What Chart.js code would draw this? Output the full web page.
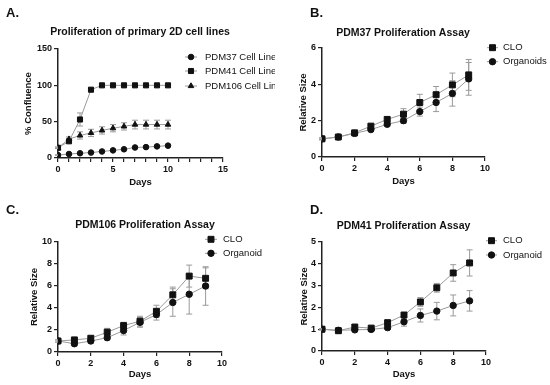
<!DOCTYPE html>
<html>
<head>
<meta charset="utf-8">
<script src="https://cdn.jsdelivr.net/npm/chart.js@4.4.1/dist/chart.umd.min.js"></script>
<style>
  body { margin: 0; background: #fff; }
  #wrap { position: relative; width: 550px; height: 385px; }
  #wrap canvas { position: absolute; left: 0; top: 0; }
</style>
</head>
<body>
<div id="wrap">
  <canvas id="chartA" width="550" height="385"></canvas>
  <canvas id="chartB" width="550" height="385"></canvas>
  <canvas id="chartC" width="550" height="385"></canvas>
  <canvas id="chartD" width="550" height="385"></canvas>
</div>
<script>
// ---- data ----
const daysA = [0, 1, 2, 3, 4, 5, 6, 7, 8, 9, 10];
const pdm37Conf = [4, 5.5, 6.5, 7.5, 9, 10.5, 12, 14.5, 15, 16, 17];
const pdm37ConfErr = [0.5, 0.5, 0.5, 0.5, 0.5, 0.5, 0.5, 0.8, 0.8, 0.8, 0.8];
const pdm41Conf = [14, 23, 53, 94, 100, 100, 100, 100, 100, 100, 100];
const pdm41ConfErr = [1, 2, 9, 2, 0.5, 0.5, 0.5, 0.5, 0.5, 0.5, 0.5];
const pdm106Conf = [14, 26, 31, 34.5, 38, 41, 43.5, 46, 46, 46, 46];
const pdm106ConfErr = [1, 3, 5, 5, 5, 5, 5, 6, 6, 6, 6];

const days = [0, 1, 2, 3, 4, 5, 6, 7, 8, 9];
const pdm37Clo = [1.0, 1.1, 1.33, 1.7, 2.07, 2.36, 3.0, 3.43, 3.97, 4.52];
const pdm37CloErr = [0.05, 0.05, 0.08, 0.1, 0.12, 0.3, 0.45, 0.45, 0.65, 0.85];
const pdm37Org = [1.0, 1.1, 1.3, 1.51, 1.8, 2.0, 2.5, 3.0, 3.5, 4.3];
const pdm37OrgErr = [0.05, 0.05, 0.05, 0.08, 0.1, 0.15, 0.25, 0.5, 0.7, 0.9];

const pdm106Clo = [1.0, 1.1, 1.25, 1.8, 2.4, 2.8, 3.7, 5.2, 6.9, 6.7];
const pdm106CloErr = [0.1, 0.15, 0.2, 0.35, 0.3, 0.45, 0.55, 0.7, 1.0, 0.95];
const pdm106Org = [1.0, 0.75, 1.0, 1.3, 1.95, 2.7, 3.4, 4.5, 5.25, 6.0];
const pdm106OrgErr = [0.1, 0.2, 0.2, 0.2, 0.4, 0.45, 0.5, 1.25, 1.8, 1.75];

const pdm41Clo = [1.0, 0.93, 1.1, 1.05, 1.3, 1.65, 2.25, 2.9, 3.58, 4.04];
const pdm41CloErr = [0.03, 0.03, 0.1, 0.05, 0.08, 0.12, 0.2, 0.2, 0.38, 0.6];
const pdm41Org = [1.0, 0.95, 0.97, 0.99, 1.07, 1.34, 1.63, 1.83, 2.09, 2.3];
const pdm41OrgErr = [0.03, 0.03, 0.05, 0.05, 0.08, 0.2, 0.3, 0.4, 0.48, 0.47];

const FONT = "'Liberation Sans', Arial, sans-serif";
const INK = "#111";
const LINE = "#9a9a9a";

// error bars, drawn under the markers
const errorBars = {
    id: "errorBars",
    beforeDatasetsDraw(chart) {
        const ctx = chart.ctx;
        const y = chart.scales.y;
        ctx.save();
        ctx.strokeStyle = LINE;
        ctx.lineWidth = 1;
        chart.data.datasets.forEach((ds, i) => {
            if (!ds.errors) return;
            chart.getDatasetMeta(i).data.forEach((pt, j) => {
                const v = ds.data[j].y, e = ds.errors[j];
                const top = y.getPixelForValue(v + e), bot = y.getPixelForValue(v - e);
                ctx.beginPath();
                ctx.moveTo(pt.x, top); ctx.lineTo(pt.x, bot);
                ctx.moveTo(pt.x - 3, top); ctx.lineTo(pt.x + 3, top);
                ctx.moveTo(pt.x - 3, bot); ctx.lineTo(pt.x + 3, bot);
                ctx.stroke();
            });
        });
        ctx.restore();
    }
};

// panel letter, title and the small legend
const panelText = {
    id: "panelText",
    afterDraw(chart, args, o) {
        const ctx = chart.ctx;
        ctx.save();
        ctx.fillStyle = INK;
        ctx.textBaseline = "middle";
        ctx.font = "bold 13px " + FONT;
        ctx.textAlign = "left";
        ctx.fillText(o.letter, o.letterX, o.letterY);
        ctx.font = "bold 10.5px " + FONT;
        ctx.textAlign = "center";
        ctx.fillText(o.title, o.titleX, o.titleY);

        // the original panel image is cut off at its right edge
        if (o.clipRight) {
            ctx.beginPath();
            ctx.rect(0, 0, o.clipRight, chart.height);
            ctx.clip();
        }
        ctx.font = "9.5px " + FONT;
        ctx.textAlign = "left";
        chart.data.datasets.forEach((ds, i) => {
            const ly = o.legendY[i];
            ctx.strokeStyle = LINE;
            ctx.lineWidth = 1;
            ctx.beginPath();
            ctx.moveTo(o.legendX, ly);
            ctx.lineTo(o.legendX + o.legendLen, ly);
            ctx.stroke();
            ctx.fillStyle = INK;
            ctx.strokeStyle = INK;
            Chart.helpers.drawPoint(ctx, {
                pointStyle: ds.pointStyle, radius: ds.pointRadius, rotation: 0, borderWidth: 1
            }, o.legendX + o.legendLen / 2, ly);
            ctx.fillText(ds.label, o.legendX + o.legendLen + o.legendGap, ly);
        });
        ctx.restore();
    }
};

function series(label, xs, ys, errs, style, radius) {
    return {
        label: label,
        data: xs.map((d, i) => ({ x: d, y: ys[i] })),
        errors: errs,
        borderColor: LINE,
        borderWidth: 1,
        pointStyle: style,
        pointRadius: radius,
        pointBackgroundColor: INK,
        pointBorderColor: INK,
        pointBorderWidth: 1,
        tension: 0
    };
}

function axis(min, max, step, title, labelEvery) {
    return {
        type: "linear",
        min: min,
        max: max,
        border: { display: true, color: "#222", width: 1.5 },
        grid: { drawOnChartArea: false, drawTicks: true, tickLength: 4, color: "#222", lineWidth: 1.2 },
        ticks: {
            stepSize: step, padding: 2, color: INK, maxRotation: 0, minRotation: 0, autoSkip: false,
            font: { family: FONT, size: 9, weight: "bold" },
            callback: v => (labelEvery && v % labelEvery !== 0 ? "" : v)
        },
        title: { display: true, text: title, color: INK, padding: 0, font: { family: FONT, size: 9.5, weight: "bold" } }
    };
}

// g: chart area box + where the axis titles sit
function makePanel(id, datasets, g, xCfg, yCfg, text) {
    const lh = 9.5 * 1.2;
    const yLeft = g.yTitleX - lh / 2;
    const xBottom = g.xTitleY + lh / 2;
    yCfg.afterFit = s => { s.width = g.left - yLeft; };
    xCfg.afterFit = s => { s.height = xBottom - g.bottom; };
    new Chart(document.getElementById(id), {
        type: "line",
        data: { datasets: datasets },
        options: {
            responsive: false,
            animation: false,
            devicePixelRatio: 1,
            layout: { padding: { left: yLeft, top: g.top, right: 550 - g.right, bottom: 385 - xBottom } },
            scales: { x: xCfg, y: yCfg },
            plugins: { legend: { display: false }, tooltip: { enabled: false }, title: { display: false }, panelText: text }
        },
        plugins: [errorBars, panelText]
    });
}

makePanel("chartA", [
    series("PDM37 Cell Line", daysA, pdm37Conf, pdm37ConfErr, "circle", 2.8),
    series("PDM41 Cell Line", daysA, pdm41Conf, pdm41ConfErr, "rect", 3.6),
    series("PDM106 Cell Line", daysA, pdm106Conf, pdm106ConfErr, "triangle", 3.2)
], { left: 58, right: 223, top: 49, bottom: 158, yTitleX: 28.5, xTitleY: 182.7 },
   axis(0, 15, 1, "Days", 5), axis(0, 150, 50, "% Confluence"),
   { letter: "A.", letterX: 6, letterY: 13, title: "Proliferation of primary 2D cell lines", titleX: 140, titleY: 32,
     legendX: 185, legendLen: 12, legendGap: 8, legendY: [57, 71, 86], clipRight: 275 });

makePanel("chartB", [
    series("CLO", days, pdm37Clo, pdm37CloErr, "rect", 4.2),
    series("Organoids", days, pdm37Org, pdm37OrgErr, "circle", 3.2)
], { left: 322, right: 485, top: 48, bottom: 157, yTitleX: 303.5, xTitleY: 181 },
   axis(0, 10, 2, "Days"), axis(0, 6, 2, "Relative Size"),
   { letter: "B.", letterX: 310, letterY: 13, title: "PDM37 Proliferation Assay", titleX: 403, titleY: 33,
     legendX: 487, legendLen: 11, legendGap: 5, legendY: [47.7, 61.7] });

makePanel("chartC", [
    series("CLO", days, pdm106Clo, pdm106CloErr, "rect", 4.2),
    series("Organoid", days, pdm106Org, pdm106OrgErr, "circle", 3.2)
], { left: 58, right: 222, top: 242, bottom: 352, yTitleX: 34, xTitleY: 374 },
   axis(0, 10, 2, "Days"), axis(0, 10, 2, "Relative Size"),
   { letter: "C.", letterX: 6, letterY: 210, title: "PDM106 Proliferation Assay", titleX: 145, titleY: 225,
     legendX: 205, legendLen: 12, legendGap: 6, legendY: [239.3, 253.3] });

makePanel("chartD", [
    series("CLO", days, pdm41Clo, pdm41CloErr, "rect", 4.2),
    series("Organoid", days, pdm41Org, pdm41OrgErr, "circle", 3.2)
], { left: 322, right: 486, top: 242, bottom: 351, yTitleX: 304, xTitleY: 374 },
   axis(0, 10, 2, "Days"), axis(0, 5, 1, "Relative Size"),
   { letter: "D.", letterX: 310, letterY: 210, title: "PDM41 Proliferation Assay", titleX: 403.5, titleY: 225.7,
     legendX: 486, legendLen: 11, legendGap: 6, legendY: [240.7, 255] });
</script>
</body>
</html>
